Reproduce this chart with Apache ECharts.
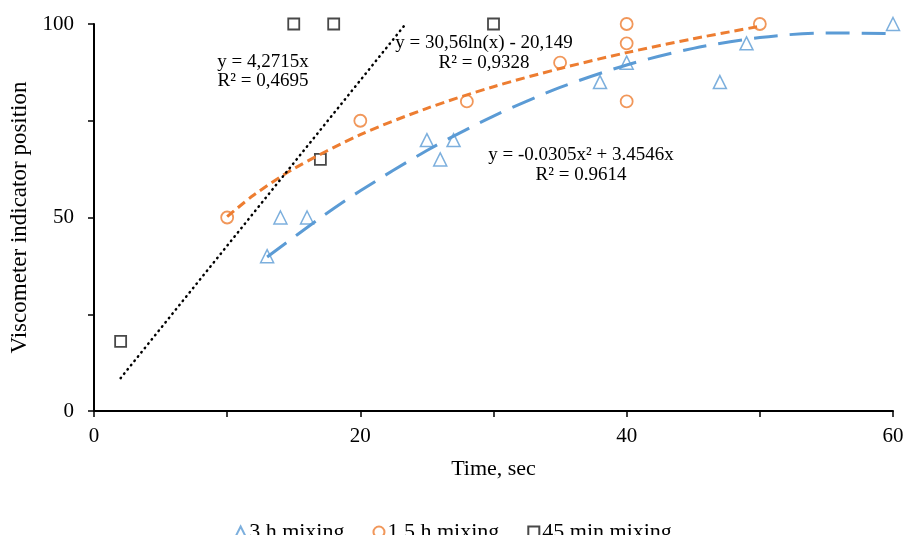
<!DOCTYPE html>
<html>
<head>
<meta charset="utf-8">
<script src="https://cdn.jsdelivr.net/npm/echarts@6/dist/echarts.min.js"></script>
<style>
  html, body { margin: 0; padding: 0; background: #fff; }
  #chart { width: 906px; height: 535px; }
</style>
</head>
<body>
<div id="chart"></div>
<script>
// measured points [time, position]
var mix3h = [[13, 40], [14, 50], [16, 50], [25, 70], [26, 65], [27, 70], [38, 85], [40, 90], [47, 85], [49, 95], [60, 100]];
var mix15h = [[10, 50], [20, 75], [28, 80], [35, 90], [40, 100], [40, 95], [40, 80], [50, 100]];
var mix45min = [[2, 18], [15, 100], [18, 100], [17, 65], [30, 100]];

// trendlines
var trend45min = [[2, 8.5], [23.4, 100]];
var trend15h = [[10, 50.2], [12, 55.8], [15, 62.6], [20, 71.4], [25, 78.2], [30, 83.8], [35, 88.5], [40, 92.6], [45, 96.2], [50, 99.4]];
var trend3h = [[13, 39.8], [17, 49.9], [20, 56.9], [25, 67.3], [30, 76.2], [35, 83.6], [40, 89.4], [45, 93.7], [50, 96.5], [55, 97.7], [60, 97.5]];

var xTickLabels = [0, 20, 40, 60];
var yTickLabels = [0, 50, 100];
var seriesNames = ['3 h mixing', '1.5 h mixing', '45 min mixing'];

var FONT = '"Liberation Serif", "Times New Roman", serif';
var BLUE = '#5B9BD5', ORANGE = '#ED7D31', BLACK = '#1a1a1a';

var chart = echarts.init(document.getElementById('chart'));

var option = {
    backgroundColor: '#fff',
    animation: false,
    textStyle: { fontFamily: FONT, color: '#000' },
    grid: { left: 94, right: 13, top: 24, bottom: 124, outerBoundsMode: 'none', containLabel: false },
    legend: {
        data: seriesNames,
        left: 'center',
        top: 516,
        itemWidth: 11,
        itemHeight: 11,
        itemGap: 28,
        textStyle: { fontFamily: FONT, fontSize: 22, color: '#000', padding: [0, 0, 0, -2] }
    },
    xAxis: {
        type: 'value',
        min: 0, max: 60, interval: 10,
        name: 'Time, sec',
        nameLocation: 'middle',
        nameGap: 47,
        nameTextStyle: { fontFamily: FONT, fontSize: 22, color: '#000' },
        axisLine: { lineStyle: { color: '#000', width: 2 } },
        axisTick: { show: true, length: 6, lineStyle: { color: '#000', width: 1.5 } },
        splitLine: { show: false },
        axisLabel: {
            fontFamily: FONT, fontSize: 21, color: '#000', margin: 15,
            formatter: function (v) { return xTickLabels.indexOf(v) >= 0 ? String(v) : ''; }
        }
    },
    yAxis: {
        type: 'value',
        min: 0, max: 100, interval: 25,
        name: 'Viscometer indicator position',
        nameLocation: 'middle',
        nameGap: 62,
        nameTextStyle: { fontFamily: FONT, fontSize: 23, color: '#000' },
        axisLine: { show: true, lineStyle: { color: '#000', width: 2 } },
        axisTick: { show: true, length: 6, lineStyle: { color: '#000', width: 1.5 } },
        splitLine: { show: false },
        axisLabel: {
            fontFamily: FONT, fontSize: 21, color: '#000', margin: 20,
            formatter: function (v) { return yTickLabels.indexOf(v) >= 0 ? String(v) : ''; }
        }
    },
    graphic: [
        { type: 'text', style: { text: 'y = 4,2715x\nR² = 0,4695', x: 263, y: 53, align: 'center', verticalAlign: 'top', font: '19px ' + FONT, lineHeight: 19, fill: '#000' } },
        { type: 'text', style: { text: 'y = 30,56ln(x) - 20,149\nR² = 0,9328', x: 484, y: 33, align: 'center', verticalAlign: 'top', font: '19px ' + FONT, lineHeight: 20, fill: '#000' } },
        { type: 'text', style: { text: 'y = -0.0305x² + 3.4546x\nR² = 0.9614', x: 581, y: 145, align: 'center', verticalAlign: 'top', font: '19px ' + FONT, lineHeight: 20, fill: '#000' } }
    ],
    series: [
        {
            name: seriesNames[0], type: 'scatter', data: mix3h,
            symbol: 'triangle', symbolSize: 13,
            itemStyle: { color: '#fff', borderColor: BLUE, borderWidth: 1.5 }
        },
        {
            name: seriesNames[1], type: 'scatter', data: mix15h,
            symbol: 'circle', symbolSize: 12,
            itemStyle: { color: '#fff', borderColor: ORANGE, borderWidth: 1.8 }
        },
        {
            name: seriesNames[2], type: 'scatter', data: mix45min,
            symbol: 'rect', symbolSize: 11,
            itemStyle: { color: '#fff', borderColor: BLACK, borderWidth: 1.8 }
        },
        {
            name: 'trend 3h', type: 'line', data: trend3h, smooth: 0.3, showSymbol: false, z: 3,
            lineStyle: { color: BLUE, width: 3, type: [24, 12] }
        },
        {
            name: 'trend 1.5h', type: 'line', data: trend15h, smooth: 0.3, showSymbol: false, z: 3,
            lineStyle: { color: ORANGE, width: 3, type: [9, 5] }
        },
        {
            name: 'trend 45min', type: 'line', data: trend45min, showSymbol: false, z: 3,
            lineStyle: { color: '#000', width: 2.5, type: [0.5, 5], cap: 'round' }
        }
    ]
};

chart.setOption(option);
</script>
</body>
</html>
